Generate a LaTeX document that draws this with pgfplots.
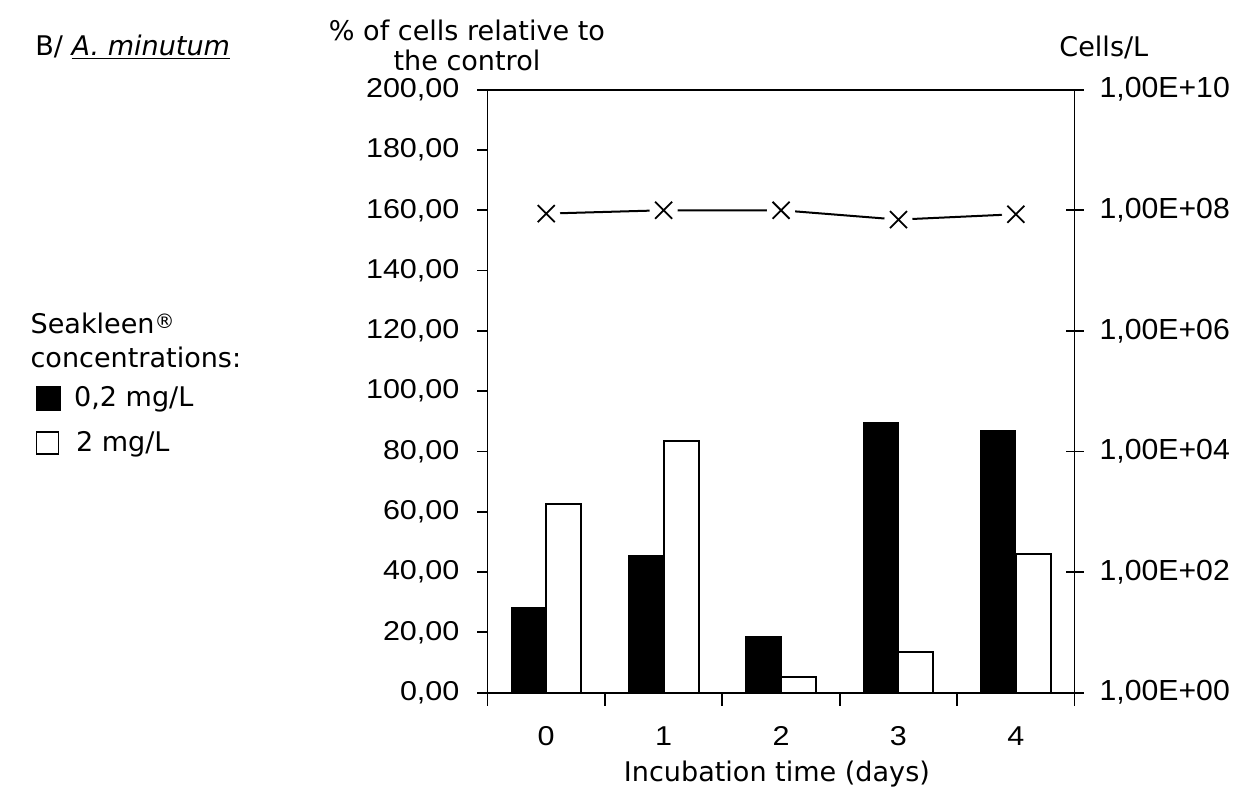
\documentclass[border=0pt]{standalone}
\usepackage{pgfplots}
\pgfplotsset{compat=1.18}
\usepackage{fontspec}
\setmainfont{DejaVu Sans}
\newfontfamily\arialw[FakeStretch=1.12]{Liberation Sans}
\newfontfamily\arialr[FakeStretch=1.04]{Liberation Sans}
\pgfplotstableread{
x cells
0 8.8e7
1 1e8
2 1e8
3 7e7
4 8.6e7
}\cellstable
\begin{document}
\begin{tikzpicture}
\pgfplotsset{
  every axis/.append style={scale only axis, width=293pt, height=301pt, xmin=-0.5, xmax=4.5,
    axis line style={black, line width=0.9pt},
    every tick/.style={black, line width=0.9pt},
  },
}
\begin{axis}[
  clip=false,
  ymin=0, ymax=200,
  ybar=0pt, bar width=17.5pt,
  ytick={0,20,...,200},
  yticklabels={{0,00},{20,00},{40,00},{60,00},{80,00},{100,00},{120,00},{140,00},{160,00},{180,00},{200,00}},
  yticklabel style={font=\arialw\fontsize{13.6}{16}\selectfont, xshift=-5.5pt},
  xticklabel style={font=\arialw\fontsize{13.6}{16}\selectfont, yshift=-8.5pt},
  ytick pos=left, xtick pos=bottom,
  tick align=outside,
  major tick length=5pt,
  xtick={0,1,2,3,4},
  xticklabels={0,1,2,3,4},
  minor xtick={-0.5,0.5,1.5,2.5,3.5,4.5},
  major x tick style={draw=none},
  minor tick length=6.5pt,
  xlabel={Incubation time (days)},
  every axis x label/.style={at={(axis description cs:0.493,-0.1354)}, anchor=center, font=\fontsize{13.5}{16}\selectfont},
  legend style={at={(axis description cs:-0.7705,0.515)}, anchor=north west, draw=none, fill=none,
    font=\fontsize{13.5}{16}\selectfont, row sep=7pt, inner sep=0pt,
    nodes={inner sep=2pt}},
  legend cell align=left,
]
\addplot[fill=black, draw=black, line width=0.5pt,
  legend image code/.code={\fill[black] (0pt,-6pt) rectangle (12pt,6pt);}]
  coordinates {(0,28.2) (1,45.5) (2,18.7) (3,89.6) (4,87.1)};
\addlegendentry{\hspace{4.5pt}0,2 mg/L}
\addplot[fill=white, draw=black, line width=1pt,
  legend image code/.code={\draw[black, line width=0.9pt, fill=white] (0pt,-5.5pt) rectangle (11pt,5.5pt);}]
  coordinates {(0,62.6) (1,83.6) (2,5.2) (3,13.6) (4,46.0)};
\addlegendentry{\hspace{5.5pt}2 mg/L}
\node[anchor=center, align=center, font=\fontsize{13.5}{15}\selectfont] at (axis description cs:-0.035,1.074) {\% of cells relative to\\the control};
\node[anchor=center, font=\fontsize{13.5}{16}\selectfont] at (axis description cs:1.050,1.0706) {Cells/L};
\node[anchor=west, font=\fontsize{13.5}{16}\selectfont, inner sep=0pt] at (axis description cs:-0.771,1.0706) {B/ \underline{\textit{A. minutum}}};
\node[anchor=west, align=left, font=\fontsize{13.5}{17}\selectfont, inner sep=0pt] at (axis description cs:-0.779,0.584) {Seakleen{\fontsize{10}{12}\selectfont\raisebox{0.45ex}{®}}\\concentrations:};
\coordinate (bbsw) at (axis description cs:-0.8305,-0.157);
\coordinate (bbne) at (axis description cs:1.2819,1.1487);
\end{axis}
\begin{axis}[
  ymode=log, ymin=1, ymax=1e10,
  axis y line*=right, axis x line=none,
  ytick={1,1e2,1e4,1e6,1e8,1e10},
  yticklabels={{1,00E+00},{1,00E+02},{1,00E+04},{1,00E+06},{1,00E+08},{1,00E+10}},
  yticklabel style={font=\arialr\fontsize{14.5}{17}\selectfont, xshift=4.5pt},
  tick align=center, major tick length=9pt,
  yminorticks=false,
]
\addplot[black, line width=1pt, mark=none] table[x=x, y=cells] {\cellstable};
\addplot[white, draw=white, fill=white, only marks, mark=*, mark size=6.8pt, mark options={draw=white, fill=white}] table[x=x, y=cells] {\cellstable};
\addplot[black, only marks, mark=x, mark size=6pt, mark options={black, line width=0.9pt}] table[x=x, y=cells] {\cellstable};
\end{axis}
\pgfresetboundingbox
\path[use as bounding box] (bbsw) rectangle (bbne);
\end{tikzpicture}
\end{document}
